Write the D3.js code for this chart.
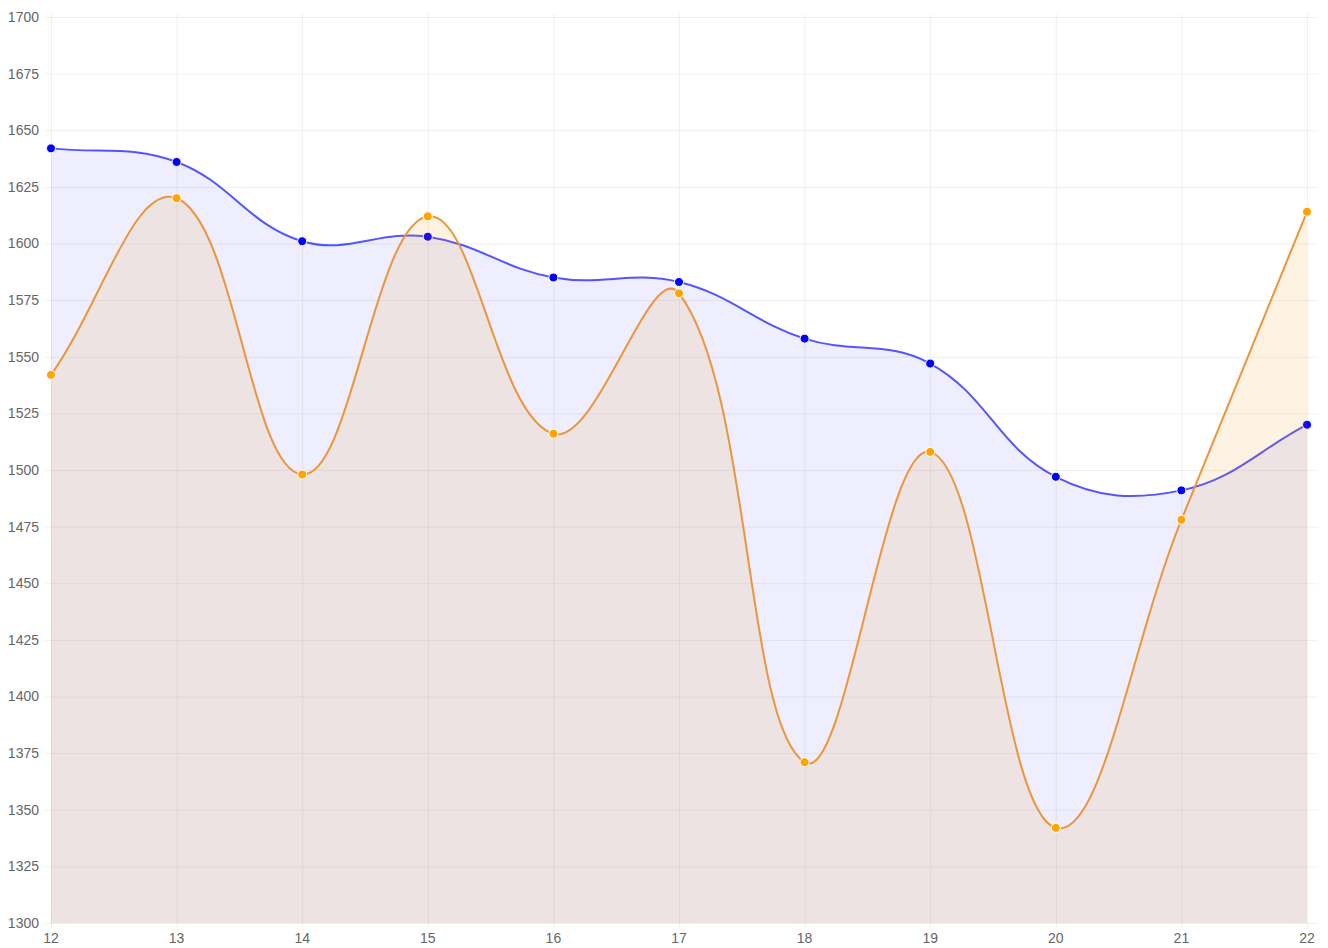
<!DOCTYPE html>
<html>
<head>
<meta charset="utf-8">
<script src="https://cdn.jsdelivr.net/npm/d3@7"></script>
<style>
  html, body { margin: 0; padding: 0; background: #fff; }
  svg { display: block; }
  text { font-family: "Liberation Sans", Arial, Helvetica, sans-serif; font-size: 14px; fill: #666; }
</style>
</head>
<body>
<svg id="chart" width="1328" height="948"></svg>
<script>
// Categories along the x axis
const categories = [12, 13, 14, 15, 16, 17, 18, 19, 20, 21, 22];
// Series values
const blueValues   = [1642, 1636, 1601, 1603, 1585, 1583, 1558, 1547, 1497, 1491, 1520];
const orangeValues = [1542, 1620, 1498, 1612, 1516, 1578, 1371, 1508, 1342, 1478, 1614];
// Y axis tick values
const yTicks = [1300, 1325, 1350, 1375, 1400, 1425, 1450, 1475, 1500, 1525, 1550, 1575, 1600, 1625, 1650, 1675, 1700];

const W = 1328, H = 948;
const margin = { left: 51, right: 21, top: 17, bottom: 25 };
const plotL = margin.left, plotR = W - margin.right, plotT = margin.top, plotB = H - margin.bottom;

const x = d3.scalePoint().domain(categories).range([plotL, 1307]);
const y = d3.scaleLinear().domain([1300, 1700]).range([plotB, plotT]);

const svg = d3.select("#chart");

// Grid
const grid = svg.append("g");
grid.selectAll("line.h").data(yTicks).join("line")
  .attr("x1", plotL - 6).attr("x2", 1318)
  .attr("y1", d => y(d) + 0.5).attr("y2", d => y(d) + 0.5)
  .attr("stroke", "rgba(0,0,0,0.06)").attr("stroke-width", 1);
grid.selectAll("line.v").data(categories).join("line")
  .attr("x1", d => x(d) + 0.5).attr("x2", d => x(d) + 0.5)
  .attr("y1", plotT - 3).attr("y2", plotB + 5)
  .attr("stroke", "rgba(0,0,0,0.06)").attr("stroke-width", 1);

// Axis labels
svg.append("g").selectAll("text").data(yTicks).join("text")
  .attr("x", 39).attr("y", d => y(d)).attr("dy", "0.35em")
  .attr("text-anchor", "end").text(d => d);
svg.append("g").selectAll("text").data(categories).join("text")
  .attr("x", d => x(d)).attr("y", 943)
  .attr("text-anchor", "middle").text(d => d);

// Cubic spline with tension 0.4, control points scaled by neighbour distances
function splinePath(pts, tension, ctx) {
  const cps = pts.map((p, i) => {
    const prev = pts[i - 1] || p, next = pts[i + 1] || p;
    const d01 = Math.hypot(p.x - prev.x, p.y - prev.y);
    const d12 = Math.hypot(next.x - p.x, next.y - p.y);
    let s01 = d01 / (d01 + d12), s12 = d12 / (d01 + d12);
    if (!isFinite(s01)) s01 = 0;
    if (!isFinite(s12)) s12 = 0;
    const fa = tension * s01, fb = tension * s12;
    const clampY = v => Math.max(plotT, Math.min(plotB, v));
    return {
      px: p.x - fa * (next.x - prev.x), py: clampY(p.y - fa * (next.y - prev.y)),
      nx: p.x + fb * (next.x - prev.x), ny: clampY(p.y + fb * (next.y - prev.y))
    };
  });
  ctx.moveTo(pts[0].x, pts[0].y);
  for (let i = 1; i < pts.length; i++) {
    ctx.bezierCurveTo(cps[i - 1].nx, cps[i - 1].ny, cps[i].px, cps[i].py, pts[i].x, pts[i].y);
  }
  return ctx;
}

function drawSeries(values, fill, stroke, pointColor) {
  const pts = values.map((v, i) => ({ x: x(categories[i]), y: y(v) }));
  const g = svg.append("g");
  const area = splinePath(pts, 0.4, d3.path());
  area.lineTo(pts[pts.length - 1].x, plotB);
  area.lineTo(pts[0].x, plotB);
  area.closePath();
  g.append("path").attr("d", area.toString()).attr("fill", fill);
  g.append("path").attr("d", splinePath(pts, 0.4, d3.path()).toString())
    .attr("fill", "none").attr("stroke", stroke).attr("stroke-width", 2);
  g.selectAll("circle").data(values).join("circle")
    .attr("cx", (d, i) => x(categories[i])).attr("cy", d => y(d))
    .attr("r", 4.5).attr("fill", pointColor)
    .attr("stroke", "#fff").attr("stroke-width", 1);
}

drawSeries(blueValues, "rgba(0,0,255,0.068)", "rgba(0,0,255,0.66)", "#0000ff");
drawSeries(orangeValues, "rgba(250,150,0,0.11)", "#ea963c", "#ffa500");
</script>
</body>
</html>
